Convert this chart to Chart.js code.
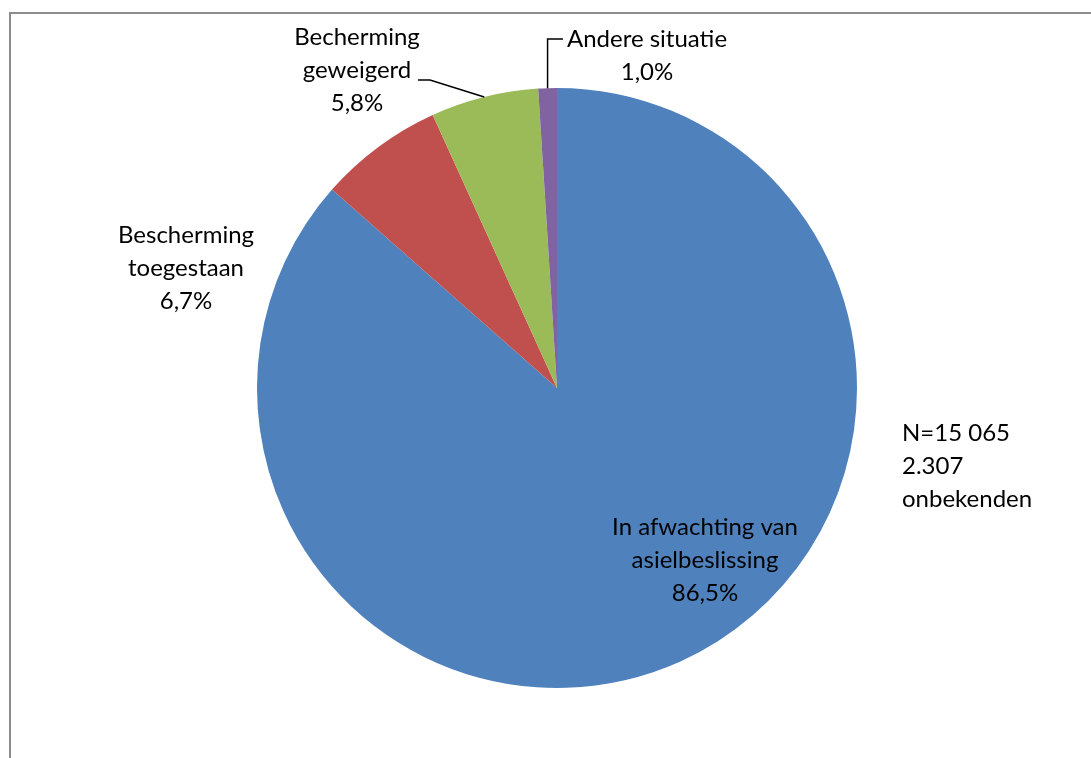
<!DOCTYPE html>
<html>
<head>
<meta charset="utf-8">
<script src="https://cdn.jsdelivr.net/npm/chart.js@4/dist/chart.umd.min.js"></script>
<style>
	html, body { margin: 0; padding: 0; background: #fff; }
	#wrap { position: relative; width: 1091px; height: 758px; }
</style>
</head>
<body>
<div id="wrap"><canvas id="pie-chart"></canvas></div>
<script>
// Gegevens van het diagram
const categories = ['In afwachting van asielbeslissing', 'Bescherming toegestaan', 'Becherming geweigerd', 'Andere situatie'];
const values = [86.5, 6.7, 5.8, 1.0];
const labelLines = [
	['In afwachting van', 'asielbeslissing'],
	['Bescherming', 'toegestaan'],
	['Becherming', 'geweigerd'],
	['Andere situatie']
];
const noteLines = ['N=15 065', '2.307', 'onbekenden'];
const colors = ['#4F81BD', '#C0504D', '#9BBB59', '#8064A2'];

const FONT = '24px Lato, Carlito, "Liberation Sans", sans-serif';
const LINE = 33;

// Positie van de etiketten t.o.v. het middelpunt van de taart
const labelOffsets = [
	{ dx: 148, dy: 172 },
	{ dx: -371, dy: -120 },
	{ dx: -200, dy: -318 },
	{ dx: 90, dy: -332 }
];

const pct = (v) => v.toFixed(1).replace('.', ',') + '%';

const labelsPlugin = {
	id: 'pieLabels',
	afterDatasetsDraw(chart) {
		const ctx = chart.ctx;
		const arcs = chart.getDatasetMeta(0).data;
		const cx = arcs[0].x;
		const cy = arcs[0].y;

		ctx.save();

		// Kader rond het diagram
		ctx.strokeStyle = '#8c8c8c';
		ctx.lineWidth = 2;
		ctx.beginPath();
		ctx.moveTo(10, 758);
		ctx.lineTo(10, 13);
		ctx.lineTo(1091, 13);
		ctx.stroke();

		ctx.font = FONT;
		ctx.fillStyle = '#000';
		ctx.textAlign = 'center';
		ctx.textBaseline = 'middle';

		values.forEach((v, i) => {
			const lines = labelLines[i].concat([pct(v)]);
			const x = cx + labelOffsets[i].dx;
			const yMid = cy + labelOffsets[i].dy;
			const y0 = yMid - ((lines.length - 1) * LINE) / 2;
			lines.forEach((t, j) => ctx.fillText(t, x, y0 + j * LINE));
		});

		// Verbindingslijnen naar de kleine sectoren
		ctx.strokeStyle = '#000';
		ctx.lineWidth = 1.5;
		const edge = (i) => {
			const a = arcs[i];
			const mid = (a.startAngle + a.endAngle) / 2;
			return { x: cx + a.outerRadius * Math.cos(mid), y: cy + a.outerRadius * Math.sin(mid) };
		};

		const g = edge(2);
		ctx.beginPath();
		ctx.moveTo(cx - 139, cy - 308);
		ctx.lineTo(cx - 127, cy - 308);
		ctx.lineTo(g.x, g.y);
		ctx.stroke();

		const p = edge(3);
		ctx.beginPath();
		ctx.moveTo(cx + 6, cy - 349);
		ctx.lineTo(p.x, cy - 349);
		ctx.lineTo(p.x, p.y);
		ctx.stroke();

		// Aantallen rechts van de taart
		ctx.textAlign = 'left';
		noteLines.forEach((t, j) => ctx.fillText(t, cx + 345, cy + 45 + j * LINE));

		ctx.restore();
	}
};

const canvas = document.getElementById('pie-chart');

new Chart(canvas, {
	type: 'pie',
	data: {
		labels: categories,
		datasets: [{
			data: values,
			backgroundColor: colors,
			borderWidth: 0
		}]
	},
	options: {
		responsive: true,
		maintainAspectRatio: false,
		animation: false,
		layout: { padding: { left: 257, right: 234, top: 88, bottom: 70 } },
		plugins: {
			legend: { display: false },
			tooltip: { enabled: false }
		}
	},
	plugins: [labelsPlugin]
});
</script>
</body>
</html>
